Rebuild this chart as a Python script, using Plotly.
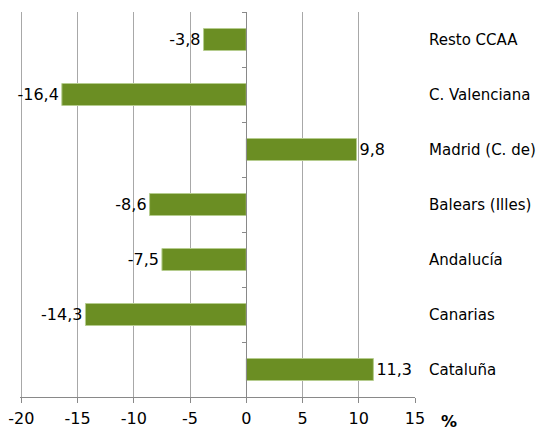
import plotly.graph_objects as go

categories = ["Resto CCAA", "C. Valenciana", "Madrid (C. de)", "Balears (Illes)",
              "Andalucía", "Canarias", "Cataluña"]
values = [-3.8, -16.4, 9.8, -8.6, -7.5, -14.3, 11.3]
tick_vals = [-20, -15, -10, -5, 0, 5, 10, 15]
tick_text = ["-20", "-15", "-10", "-5", "0", "5", "10", "15"]
unit_label = "%"

# lower bound nudged just past -20 so the -20 gridline is not dropped at the edge
x_min, x_max = -20.12, 15
labels = [f"{v:.1f}".replace(".", ",") for v in values]

FONT = "DejaVu Sans"
FS = 16
fig = go.Figure()
fig.add_trace(go.Bar(
    x=values, y=categories, orientation="h",
    marker=dict(color="#6B8E23", line=dict(color="#B5CC8E", width=1)),
    width=0.4,
    text=labels, textposition="outside", cliponaxis=False, constraintext="none",
    textfont=dict(family=FONT, size=FS, color="#000000"),
))

for c in categories:
    fig.add_annotation(x=1, xref="paper", y=c, yref="y", text=c, showarrow=False,
                       xanchor="left", xshift=12,
                       font=dict(family=FONT, size=15, color="#000000"))

fig.add_annotation(x=1, xref="paper", y=0, yref="paper", text="<b>" + unit_label + "</b>",
                   showarrow=False, xanchor="left", yanchor="top", xshift=24, yshift=-13,
                   font=dict(family=FONT, size=FS, color="#000000"))

# page body has an 8px margin, so margins are offset to put the plot where the reference has it
fig.update_layout(
    width=547, height=427,
    margin=dict(l=12, r=140, t=4, b=38, autoexpand=False),
    paper_bgcolor="white", plot_bgcolor="white",
    showlegend=False,
    xaxis=dict(range=[x_min, x_max], tickvals=tick_vals, ticktext=tick_text,
               automargin=False, ticklabeloverflow="allow", ticklabelstandoff=2,
               showgrid=True, gridcolor="#A8A8A8", gridwidth=1,
               zeroline=False, showline=True, linecolor="#898989", linewidth=1,
               ticks="outside", ticklen=5, tickcolor="#898989",
               tickfont=dict(family=FONT, size=FS, color="#000000")),
    yaxis=dict(autorange="reversed", showgrid=False, zeroline=False, automargin=False,
               showticklabels=False, showline=True, linecolor="#898989", linewidth=1,
               ticks="outside", ticklen=4, tickcolor="#898989", tickson="boundaries",
               anchor="free", position=(0 - x_min) / (x_max - x_min)),
)

fig.write_html("out.html")
